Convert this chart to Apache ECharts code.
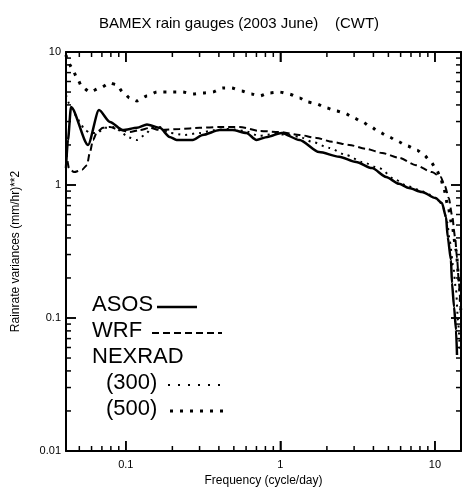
<!DOCTYPE html>
<html><head><meta charset="utf-8">
<script src="https://cdn.jsdelivr.net/npm/echarts@6/dist/echarts.min.js"></script>
<style>html,body{margin:0;padding:0;background:#fff}#c{width:464px;height:487px}</style>
</head><body><div id="c"></div>
<script>
const titleText = 'BAMEX rain gauges (2003 June)    (CWT)';
const xAxisName = 'Frequency (cycle/day)';
const yAxisName = 'Rainrate variances (mm/hr)**2';
const xTickValues = [0.1, 1, 10];
const xTickLabels = ['0.1', '1', '10'];
const yTickValues = [0.01, 0.1, 1, 10];
const yTickLabels = ['0.01', '0.1', '1', '10'];
const legendNames = ['ASOS', 'WRF', 'NEXRAD', '(300)', '(500)'];

const asosFreq = [0.0410,0.0422,0.0442,0.0569,0.0670,0.0789,0.0956,0.118,0.137,0.166,0.192,0.213,0.271,0.314,0.404,0.490,0.603,0.700,0.825,1.016,1.33,1.78,2.40,3.09,3.92,4.83,5.86,6.79,8.24,10.1,11.1,11.8,12.1,12.7,12.9,13.3,13.7,13.9];
const asosVar  = [1.34,2.18,3.86,2.00,3.66,2.98,2.59,2.69,2.85,2.69,2.30,2.18,2.18,2.38,2.59,2.59,2.46,2.18,2.30,2.46,2.18,1.77,1.63,1.49,1.34,1.15,1.02,0.949,0.886,0.798,0.732,0.575,0.407,0.273,0.183,0.121,0.0813,0.0527];

const wrfFreq = [0.0410,0.0429,0.0462,0.0520,0.0560,0.0586,0.0613,0.0650,0.0711,0.0789,0.0915,0.106,0.123,0.143,0.166,0.223,0.300,0.404,0.544,0.733,0.986,1.33,1.71,2.17,2.79,3.59,4.55,5.86,7.54,9.57,10.9,11.6,12.3,12.9,13.5,13.9,14.3,14.7];
const wrfVar  = [1.83,1.34,1.25,1.30,1.41,1.77,2.18,2.50,2.69,2.73,2.59,2.50,2.59,2.69,2.59,2.64,2.69,2.73,2.73,2.55,2.50,2.38,2.26,2.11,2.00,1.87,1.74,1.60,1.41,1.25,1.15,0.983,0.798,0.595,0.407,0.283,0.183,0.109];

const n300Freq = [0.0410,0.0435,0.0483,0.0505,0.0544,0.0586,0.0650,0.0732,0.0849,0.0942,0.1015,0.118,0.133,0.147,0.166,0.192,0.240,0.300,0.375,0.469,0.585,0.733,0.912,1.14,1.33,1.61,2.07,2.67,3.38,4.35,5.60,6.60,7.91,9.42,10.6,11.3,12.0,12.5,13.1,13.7,14.1,14.5];
const n300Var  = [4.75,4.00,3.25,2.93,2.59,2.46,2.46,2.69,2.73,2.50,2.30,2.18,2.38,2.69,2.73,2.46,2.38,2.46,2.59,2.64,2.55,2.34,2.42,2.38,2.30,2.11,1.90,1.68,1.49,1.34,1.09,0.983,0.917,0.841,0.771,0.683,0.527,0.373,0.250,0.162,0.0966,0.0574];

const n500Freq = [0.0410,0.0422,0.0449,0.0483,0.0520,0.0586,0.0680,0.0789,0.0875,0.0956,0.106,0.118,0.137,0.159,0.201,0.233,0.271,0.314,0.364,0.423,0.483,0.560,0.650,0.733,0.849,0.986,1.14,1.33,1.49,1.71,1.98,2.30,2.59,3.00,3.38,3.87,4.35,5.05,5.68,6.60,7.65,8.49,9.42,10.1,10.8,11.4,12.1,12.9,13.7,14.3,14.7];
const n500Var  = [9.49,8.41,7.58,6.37,5.46,5.00,5.36,5.85,5.65,5.00,4.51,4.28,4.67,5.00,5.00,5.00,4.83,4.92,5.00,5.36,5.36,5.09,4.83,4.67,4.92,5.00,4.83,4.51,4.21,4.07,3.80,3.60,3.48,3.19,2.98,2.73,2.50,2.30,2.14,1.97,1.83,1.68,1.49,1.34,1.17,0.949,0.708,0.500,0.325,0.193,0.115];

const xMin = 0.041, xMax = 14.75, yMin = 0.01, yMax = 10;
const FONT = '"Liberation Sans", Arial, sans-serif';

// layout
const W = 464, H = 487;
const GRID = { left: 66, right: 3, top: 52, bottom: 36 };
const MINOR = 5, MAJOR = 10;

function pairs(xs, ys) { return xs.map((x, i) => [x, ys[i]]); }
function labelFor(values, labels) {
  return function (v) {
    for (let i = 0; i < values.length; i++) {
      if (Math.abs(Math.log10(v) - Math.log10(values[i])) < 1e-6) return labels[i];
    }
    return '';
  };
}
function minorValues(lo, hi) {
  const out = [];
  for (let d = -3; d <= 2; d++) {
    for (let k = 2; k <= 9; k++) {
      const v = k * Math.pow(10, d);
      if (v > lo && v < hi) out.push(v);
    }
  }
  return out;
}

function lineSeries(name, xs, ys, style) {
  return {
    name, type: 'line', data: pairs(xs, ys), showSymbol: false, symbol: 'none',
    smooth: 0.25, smoothMonotone: 'x',
    lineStyle: Object.assign({ color: '#000' }, style)
  };
}
function axis(extra) {
  return Object.assign({
    type: 'log',
    axisLine: { show: true, onZero: false, lineStyle: { color: '#000', width: 2 } },
    axisTick: { show: true, inside: true, length: MAJOR, lineStyle: { color: '#000', width: 1.5 } },
    splitLine: { show: false }
  }, extra);
}

// tick marks drawn as short segments on the log axes (lengths in pixels -> log factors)
const plotW = W - GRID.left - GRID.right, plotH = H - GRID.top - GRID.bottom;
const xPxPerDecade = plotW / Math.log10(xMax / xMin);
const yPxPerDecade = plotH / Math.log10(yMax / yMin);
function fx(len) { return Math.pow(10, len / xPxPerDecade); }
function fy(len) { return Math.pow(10, len / yPxPerDecade); }
function seg(a, b) {
  return { type: 'line', data: [a, b], showSymbol: false, symbol: 'none', silent: true,
    clip: false, z: 4, lineStyle: { color: '#000', width: 1.5, type: 'solid' } };
}
const tickSeries = [];
function xTick(v, len) {
  tickSeries.push(seg([v, yMin], [v, yMin * fy(len)]));
  tickSeries.push(seg([v, yMax], [v, yMax / fy(len)]));
}
function yTick(v, len) {
  tickSeries.push(seg([xMin, v], [xMin * fx(len), v]));
  tickSeries.push(seg([xMax, v], [xMax / fx(len), v]));
}
minorValues(xMin, xMax).forEach(v => xTick(v, MINOR));
xTickValues.forEach(v => xTick(v, MAJOR));
minorValues(yMin, yMax).forEach(v => yTick(v, MINOR));
yTickValues.forEach(v => { if (v > yMin && v < yMax) yTick(v, MAJOR); });

// in-plot key (text + sample strokes)
const graphics = [];
const keyRows = [305, 331, 357, 383, 409];
const keyX = [92, 92, 92, 106, 106];
const keyStyles = [
  { lineWidth: 2.5, lineDash: null, x1: 157, x2: 197 },
  { lineWidth: 2, lineDash: [7, 4], x1: 152, x2: 222 },
  null,
  { lineWidth: 2, lineDash: [2, 8], x1: 168, x2: 222 },
  { lineWidth: 3, lineDash: [3, 7], x1: 170, x2: 224 }
];
legendNames.forEach((n, i) => {
  graphics.push({ type: 'text', silent: true, style: { text: n, x: keyX[i], y: keyRows[i],
    font: '22px ' + FONT, fill: '#000', verticalAlign: 'middle', align: 'left' } });
  const s = keyStyles[i];
  if (s) graphics.push({ type: 'line', silent: true,
    shape: { x1: s.x1, y1: keyRows[i] + 2, x2: s.x2, y2: keyRows[i] + 2 },
    style: { stroke: '#000', lineWidth: s.lineWidth, lineDash: s.lineDash } });
});

const chart = echarts.init(document.getElementById('c'), null, { renderer: 'canvas' });
chart.setOption({
  animation: false,
  title: {
    text: titleText, left: 94, top: 11,
    textStyle: { fontFamily: FONT, fontSize: 15, fontWeight: 'normal', color: '#000' }
  },
  grid: Object.assign({ containLabel: false, outerBoundsMode: 'none' }, GRID),
  xAxis: [
    axis({
      position: 'bottom', min: xMin, max: xMax,
      axisLabel: { show: true, margin: 8, color: '#000', fontSize: 11, fontFamily: FONT,
        formatter: labelFor(xTickValues, xTickLabels) },
      name: xAxisName, nameLocation: 'middle', nameGap: 23,
      nameTextStyle: { fontFamily: FONT, fontSize: 12, color: '#000' }
    }),
    axis({ position: 'top', min: xMin, max: xMax, axisLabel: { show: false } })
  ],
  yAxis: [
    axis({
      position: 'left', min: yMin, max: yMax,
      axisLabel: { show: true, margin: 5, color: '#000', fontSize: 11, fontFamily: FONT,
        formatter: labelFor(yTickValues, yTickLabels) },
      name: yAxisName, nameLocation: 'middle', nameGap: 44,
      nameTextStyle: { fontFamily: FONT, fontSize: 12, color: '#000' }
    }),
    axis({ position: 'right', min: yMin, max: yMax, axisLabel: { show: false } })
  ],
  series: [
    lineSeries('ASOS', asosFreq, asosVar, { width: 2.5, type: 'solid' }),
    lineSeries('WRF', wrfFreq, wrfVar, { width: 2, type: [7, 4] }),
    lineSeries('NEXRAD (300)', n300Freq, n300Var, { width: 2, type: [2, 5] }),
    lineSeries('NEXRAD (500)', n500Freq, n500Var, { width: 3, type: [3, 7] })
  ].concat(tickSeries),
  graphic: graphics
});
</script>
</body></html>
